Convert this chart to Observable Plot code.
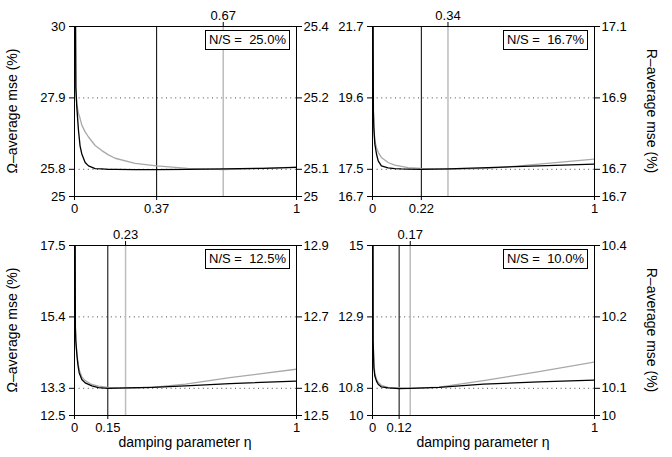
<!DOCTYPE html>
<html><head><meta charset="utf-8">
<script src="https://cdn.jsdelivr.net/npm/d3@7"></script>
<script src="https://cdn.jsdelivr.net/npm/@observablehq/plot@0.6"></script>
<style>
body{margin:0;background:#fff;}
#chart{position:relative;width:672px;height:457px;font-family:"Liberation Sans",Arial,Helvetica,sans-serif;font-size:13px;color:#000;overflow:hidden;}
.panel{position:absolute;}
.ns{position:absolute;border:1px solid #000;background:#fff;height:20px;line-height:18px;padding:0 3px;white-space:pre;box-sizing:border-box;font-size:13px;}
.tt{position:absolute;white-space:nowrap;font-size:14px;}
</style></head><body><div id="chart"></div>
<script>
// damping parameter η sample points and curve values
const eta1   = [0.001,0.006,0.0105,0.018,0.025,0.033,0.048,0.063,0.093,0.123,0.153,0.183,0.273,0.37,0.51,0.67,0.85,1.0];
const omega1 = [35,28.21,27.62,26.94,26.49,26.25,26.00,25.90,25.82,25.81,25.80,25.80,25.79,25.79,25.80,25.81,25.83,25.86];
const rmse1  = [25.8,25.257,25.216,25.196,25.184,25.168,25.152,25.140,25.120,25.108,25.098,25.090,25.078,25.072,25.066,25.063,25.066,25.069];

const eta2   = [0.001,0.004,0.006,0.0106,0.018,0.0256,0.040,0.070,0.100,0.130,0.160,0.22,0.34,0.52,0.75,1.0];
const omega2 = [25,19.22,18.73,18.24,17.95,17.75,17.60,17.54,17.52,17.51,17.505,17.50,17.51,17.55,17.60,17.65];
const rmse2  = [17.364,16.902,16.862,16.831,16.815,16.804,16.792,16.780,16.774,16.771,16.768,16.766,16.764,16.766,16.776,16.788];

const eta3   = [0.001,0.004,0.006,0.0105,0.015,0.021,0.033,0.048,0.078,0.108,0.15,0.23,0.35,0.5,0.7,1.0];
const omega3 = [22,15.09,14.69,14.30,14.01,13.76,13.56,13.46,13.37,13.32,13.30,13.31,13.33,13.37,13.44,13.51];
const rmse3  = [13.26,12.707,12.675,12.648,12.626,12.608,12.591,12.582,12.573,12.569,12.566,12.564,12.566,12.574,12.589,12.609];

const eta4   = [0.001,0.003,0.0062,0.0106,0.018,0.0256,0.040,0.070,0.12,0.17,0.3,0.5,0.75,1.0];
const omega4 = [20,12.19,11.41,11.16,11.01,10.92,10.84,10.81,10.79,10.80,10.83,10.92,10.99,11.04];
const rmse4  = [10.8,10.175,10.122,10.099,10.086,10.078,10.071,10.066,10.065,10.064,10.067,10.082,10.103,10.126];

// axis ticks and labels
const leftTicks1 = [25, 25.8, 27.9, 30];
const leftTicks2 = [16.7, 17.5, 19.6, 21.7];
const leftTicks3 = [12.5, 13.3, 15.4, 17.5];
const leftTicks4 = [10, 10.8, 12.9, 15];
const rightLabels1 = ["25", "25.1", "25.2", "25.4"];
const rightLabels2 = ["16.7", "16.7", "16.9", "17.1"];
const rightLabels3 = ["12.5", "12.6", "12.7", "12.9"];
const rightLabels4 = ["10", "10.1", "10.2", "10.4"];
const rightDomains = [[25, 25.4], [16.7, 17.1], [12.5, 12.9], [10, 10.4]];
const omegaMinEta = [0.37, 0.22, 0.15, 0.12];
const rMinEta = [0.67, 0.34, 0.23, 0.17];
const noiseLabels = ["25.0%", "16.7%", "12.5%", "10.0%"];
const leftTitle = "Ω–average mse (%)";
const rightTitle = "R–average mse (%)";
const bottomTitle = "damping parameter η";

const chart = document.getElementById("chart");
const FONT = "'Liberation Sans', Arial, Helvetica, sans-serif";

function panel(i, eta, omega, rm, lt, rl, box) {
  const lo = lt[0], hi = lt[lt.length - 1];
  const [rlo, rhi] = rightDomains[i];
  const toLeft = r => lo + (r - rlo) / (rhi - rlo) * (hi - lo);
  const black = eta.map((x, k) => ({x, y: omega[k]}));
  const gray = eta.map((x, k) => ({x, y: toLeft(rm[k])}));
  const p = Plot.plot({
    width: box.w, height: box.h,
    marginLeft: box.ml, marginRight: box.w - box.ml - 222,
    marginTop: box.mt, marginBottom: box.h - box.mt - 170,
    x: {domain: [0, 1], label: null},
    y: {domain: [lo, hi], label: null},
    style: {background: "transparent", fontSize: "13px", fontFamily: FONT, color: "#000"},
    marks: [
      Plot.ruleY([lt[1], lt[2]], {stroke: "#333", strokeDasharray: "1,3.6", strokeWidth: 0.9}),
      Plot.ruleX([rMinEta[i]], {stroke: "#bdbdbd", strokeWidth: 1.5}),
      Plot.ruleX([omegaMinEta[i]], {stroke: "#000", strokeWidth: 1}),
      Plot.line(gray, {x: "x", y: "y", stroke: "#a8a8a8", strokeWidth: 1.3, clip: true}),
      Plot.line(black, {x: "x", y: "y", stroke: "#000", strokeWidth: 1.3, clip: true}),
      Plot.frame({stroke: "#000", strokeWidth: 1}),
      Plot.axisX([0, omegaMinEta[i], 1], {anchor: "bottom", tickSize: 4, tickPadding: 3, label: null, tickFormat: d => String(d)}),
      Plot.axisX([rMinEta[i]], {anchor: "top", tickSize: 5, tickPadding: 2, label: null, tickFormat: d => String(d)}),
      Plot.axisY(lt, {anchor: "left", tickSize: 5, tickPadding: 4, label: null, tickFormat: d => String(d)}),
      Plot.axisY(lt, {anchor: "right", tickSize: 5, tickPadding: 2, label: null, tickFormat: d => rl[lt.indexOf(d)]})
    ]
  });
  p.classList.add("panel");
  p.style.left = box.x + "px";
  p.style.top = box.y + "px";
  chart.appendChild(p);
  // N/S legend box
  const fx1 = box.x + box.ml + 222, fy0 = box.y + box.mt;
  const ns = document.createElement("div");
  ns.className = "ns";
  ns.textContent = "N/S =  " + noiseLabels[i];
  ns.style.right = (672 - fx1 + 6) + "px";
  ns.style.top = (fy0 + 4) + "px";
  chart.appendChild(ns);
  return {fx0: box.x + box.ml, fx1, fy0, fy1: fy0 + 170};
}

function title(text, cx, cy, rot) {
  const d = document.createElement("div");
  d.className = "tt";
  d.textContent = text;
  d.style.left = cx + "px";
  d.style.top = cy + "px";
  d.style.transform = `translate(-50%,-50%) rotate(${rot}deg)`;
  chart.appendChild(d);
}

const f1 = panel(0, eta1, omega1, rmse1, leftTicks1, rightLabels1, {x: 0, y: 0, w: 336, h: 228, ml: 74, mt: 26});
const f2 = panel(1, eta2, omega2, rmse2, leftTicks2, rightLabels2, {x: 336, y: 0, w: 336, h: 228, ml: 36, mt: 26});
const f3 = panel(2, eta3, omega3, rmse3, leftTicks3, rightLabels3, {x: 0, y: 219, w: 336, h: 238, ml: 74, mt: 26});
const f4 = panel(3, eta4, omega4, rmse4, leftTicks4, rightLabels4, {x: 336, y: 219, w: 336, h: 238, ml: 36, mt: 26});

title(leftTitle, 12, (f1.fy0 + f1.fy1) / 2, -90);
title(leftTitle, 12, (f3.fy0 + f3.fy1) / 2, -90);
title(rightTitle, 652, (f2.fy0 + f2.fy1) / 2, 90);
title(rightTitle, 652, (f4.fy0 + f4.fy1) / 2, 90);
title(bottomTitle, (f3.fx0 + f3.fx1) / 2, 442, 0);
title(bottomTitle, (f4.fx0 + f4.fx1) / 2, 442, 0);
</script></body></html>
